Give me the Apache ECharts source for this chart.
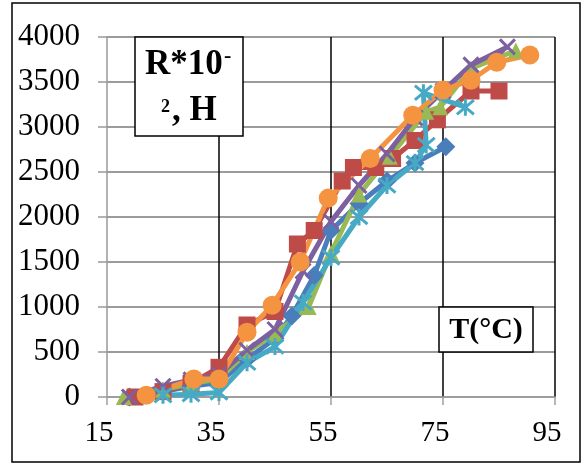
<!DOCTYPE html>
<html><head><meta charset="utf-8">
<script src="https://cdn.jsdelivr.net/npm/echarts@6/dist/echarts.min.js"></script>
<style>html,body{margin:0;padding:0;background:#fff}#c{width:585px;height:466px}</style>
</head><body><div id="c"></div>
<script>
const xTicks = [15, 35, 55, 75, 95];
const yTicks = [0, 500, 1000, 1500, 2000, 2500, 3000, 3500, 4000];

const blueT = [19, 25, 30, 35, 40, 45, 48, 52, 55, 60, 65, 70, 75.5];
const blueR = [0, 60, 120, 160, 420, 650, 900, 1350, 1850, 2150, 2400, 2600, 2780];

const redT = [20, 25, 30, 35, 40, 45, 49, 52, 57, 59, 63, 66, 70, 74, 80, 85];
const redR = [0, 60, 150, 330, 800, 950, 1700, 1850, 2400, 2550, 2550, 2650, 2850, 3080, 3400, 3400];

const greenT = [18, 25, 30, 35, 40, 45, 51, 55, 60, 65.5, 72, 74.5, 80, 88];
const greenR = [0, 80, 150, 200, 500, 700, 1000, 1600, 2250, 2670, 3170, 3220, 3650, 3850];

const purpleT = [19, 25, 30, 35, 40, 45, 50, 55, 60, 65, 70, 75, 80, 86.5];
const purpleR = [0, 120, 190, 250, 520, 750, 1400, 1950, 2350, 2700, 3100, 3400, 3690, 3890];

const cyanT = [20, 25, 30, 35, 40, 45, 50, 55, 60, 65, 70, 72, 71.5, 79];
const cyanR = [-30, 20, 30, 50, 380, 560, 1050, 1550, 2000, 2350, 2600, 2800, 3380, 3220];

const orangeT = [22, 30.5, 35, 40, 44.5, 49.5, 54.5, 62, 69.6, 75, 80, 84.6, 90.5];
const orangeR = [20, 200, 200, 720, 1020, 1500, 2210, 2650, 3130, 3410, 3520, 3720, 3800];

function pts(t, r) { return t.map((v, i) => [v, r[i]]); }

const FONT = '"Liberation Serif","Times New Roman",serif';
const X_PATH = 'path://M0,0L10,10M10,0L0,10';
const STAR_PATH = 'path://M0,0L10,10M10,0L0,10M5,-1L5,11';

function lineSeries(name, data, color, symbol, size, stroked) {
  return {
    name: name, type: 'line', data: data,
    symbol: symbol, symbolSize: size,
    lineStyle: { color: color, width: 5 },
    itemStyle: stroked ? { color: 'rgba(0,0,0,0)', borderColor: color, borderWidth: 3 } : { color: color },
    emphasis: { disabled: true }
  };
}

const chart = echarts.init(document.getElementById('c'), null, { renderer: 'canvas' });
chart.setOption({
  animation: false,
  backgroundColor: '#fff',
  grid: { left: 107, right: 30, top: 37, bottom: 69, containLabel: false },
  xAxis: {
    type: 'value', min: xTicks[0], max: xTicks[xTicks.length - 1], interval: 20,
    axisLine: { show: true, onZero: false, lineStyle: { color: '#a0a0a0', width: 1.5 } },
    axisTick: { show: true, inside: false, length: 8, lineStyle: { color: '#a0a0a0', width: 1.5 } },
    axisLabel: { color: '#000', fontFamily: FONT, fontSize: 29, margin: 22, padding: [0, 16, 0, 0] },
    splitLine: { show: true, showMinLine: false, lineStyle: { color: '#000', width: 1.5 } }
  },
  yAxis: {
    type: 'value', min: yTicks[0], max: yTicks[yTicks.length - 1], interval: 500,
    axisLine: { show: true, lineStyle: { color: '#999', width: 1.5 } },
    axisTick: { show: true, inside: false, length: 9, lineStyle: { color: '#999', width: 1.5 } },
    axisLabel: { color: '#000', fontFamily: FONT, fontSize: 31, margin: 27, formatter: function (v) { return String(v); } },
    splitLine: { show: true, lineStyle: { color: '#7a7a7a', width: 1.5 } }
  },
  series: [
    lineSeries('blue', pts(blueT, blueR), '#4A7EBB', 'diamond', 19, false),
    lineSeries('red', pts(redT, redR), '#BE4B48', 'rect', 17, false),
    lineSeries('green', pts(greenT, greenR), '#98B954', 'triangle', 16, false),
    lineSeries('purple', pts(purpleT, purpleR), '#7D60A0', X_PATH, 15, true),
    lineSeries('cyan', pts(cyanT, cyanR), '#46AAC5', STAR_PATH, 17, true),
    lineSeries('orange', pts(orangeT, orangeR), '#F59440', 'circle', 19, false)
  ],
  graphic: [
    { type: 'rect', z: 100, shape: { x: 12, y: 3, width: 568, height: 459 }, style: { fill: 'none', stroke: '#000', lineWidth: 1.5 } },
    { type: 'rect', z: 100, shape: { x: 135, y: 37, width: 108, height: 99 }, style: { fill: '#fff', stroke: '#000', lineWidth: 1.5 } },
    { type: 'text', z: 101, x: 145, y: 65, style: { text: 'R*10', font: 'bold 35px ' + FONT, fill: '#000', verticalAlign: 'middle' } },
    { type: 'text', z: 101, x: 224, y: 56, style: { text: '-', font: 'bold 22px ' + FONT, fill: '#000', verticalAlign: 'middle' } },
    { type: 'text', z: 101, x: 161, y: 107, style: { text: '2', font: 'bold 18px ' + FONT, fill: '#000', verticalAlign: 'middle' } },
    { type: 'text', z: 101, x: 172, y: 111, style: { text: ', H', font: 'bold 35px ' + FONT, fill: '#000', verticalAlign: 'middle' } },
    { type: 'rect', z: 100, shape: { x: 439, y: 307, width: 94, height: 45 }, style: { fill: '#fff', stroke: '#000', lineWidth: 1.5 } },
    { type: 'text', z: 101, x: 486, y: 330, style: { text: 'T(°C)', font: 'bold 30px ' + FONT, fill: '#000', align: 'center', verticalAlign: 'middle' } }
  ]
});
</script></body></html>
